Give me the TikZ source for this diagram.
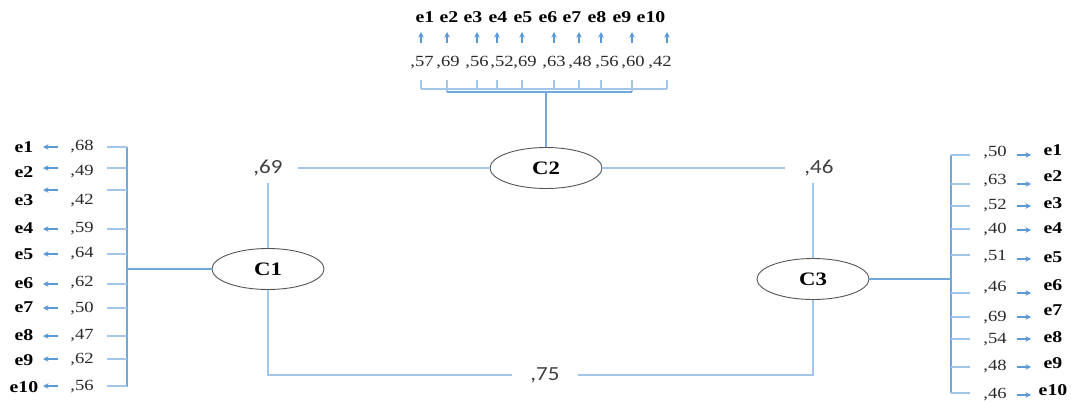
\documentclass[tikz,border=0pt]{standalone}
\usepackage{fontspec}
\setmainfont[FakeStretch=1.2]{Liberation Serif}
\newfontfamily\coeffont[FakeStretch=1.15]{Carlito}
\usetikzlibrary{shapes.geometric,arrows.meta}
\definecolor{lineblue}{HTML}{A4C6EA}
\definecolor{brblue}{HTML}{6FA8DC}
\definecolor{arrblue}{HTML}{5B9BD5}
\definecolor{txtgray}{HTML}{404040}
\definecolor{valgray}{HTML}{2A2A2A}
\definecolor{elgray}{HTML}{555555}
\tikzset{
  lat/.style={ellipse, draw=elgray, line width=0.9pt, minimum width=112pt, minimum height=41pt, inner sep=0pt,
              font=\fontsize{19}{21}\selectfont\bfseries},
  lbl/.style={inner sep=0pt, font=\fontsize{16.5}{18}\selectfont\bfseries},
  val/.style={inner sep=0pt, text=valgray, font=\fontsize{15.5}{17}\selectfont},
  coef/.style={inner sep=0pt, text=txtgray, font=\coeffont\fontsize{20}{22}\selectfont},
  ln/.style={draw=lineblue, line width=1.1pt},
  br/.style={draw=brblue, line width=1.4pt},
  arr/.style={draw=arrblue, line width=1.1pt, -{Stealth[length=5.5pt,width=5.5pt]}}
}
\begin{document}
\begin{tikzpicture}[x=1pt,y=-1pt]
\useasboundingbox (0,0) rectangle (1073,402);
% latent variables
\node[lat] (C1) at (268,269) {C1};
\node[lat] (C2) at (546,168) {C2};
\node[lat] (C3) at (813,279) {C3};
% correlation labels
\node[coef] (k12) at (268,168) {,69};
\node[coef] (k23) at (819,168) {,46};
\node[coef] (k13) at (545,375) {,75};
% correlations
\draw[ln] (C2.west) -- ([xshift=30pt]k12.center);
\draw[ln] ([yshift=-15pt]k12.center) -- (C1.north);
\draw[ln] (C2.east) -- ([xshift=-34pt]k23.center);
\draw[ln] ([yshift=-15pt]k23.center -| C3.north) -- (C3.north);
\draw[ln] (C1.south) |- ([xshift=-33pt]k13.center);
\draw[ln] (C3.south) |- ([xshift=33pt]k13.center);

% ---- left block (C1)
\coordinate (lbTop) at (127,147);
\coordinate (lbBot) at (127,387);
\draw[br] (lbTop) -- (lbBot);
\draw[br, line width=2.2pt] (C1.west) -- (C1.west -| lbTop);
\foreach \i/\ly/\vy/\ay/\v in {1/147/147/147/68, 2/172/172/168/49, 3/200/201/190/42, 4/228/229/229/59, 5/254/254/254/64,
   6/283/283/284/62, 7/307/309/308/50, 8/335/336/336/47, 9/360/360/359/62, 10/387/387/386/56}{
  \node[lbl] (L\i) at (24,\ly) {e\i};
  \node[val] (LV\i) at (82,\vy) {,\v};
  \coordinate (LA\i) at (58,\ay);
  \coordinate (LB\i) at (43,\ay);
  \draw[arr] (LA\i) -- (LB\i);
  \coordinate (LT\i) at (107,\ay);
  \draw[ln] (LT\i) -- (LT\i -| lbTop);
}

% ---- right block (C3)
\coordinate (rbTop) at (951,155);
\coordinate (rbBot) at (951,393);
\draw[br] (rbTop) -- (rbBot);
\draw[br, line width=2.2pt] (C3.east) -- (C3.east -| rbTop);
\foreach \i/\ly/\vy/\ay/\ty/\v in {1/150/153/155/155/50, 2/176/181/184/184/63, 3/203/206/206/206/52, 4/228/230/230/229/40,
   5/257/257/259/255/51, 6/285/288/293/293/46, 7/310/318/317/317/69, 8/337/340/339/339/54, 9/363/367/367/367/48, 10/390/395/395/393/46}{
  \node[lbl] (R\i) at (1053,\ly) {e\i};
  \node[val] (RV\i) at (995,\vy) {,\v};
  \coordinate (RA\i) at (1017,\ay);
  \coordinate (RB\i) at (1031,\ay);
  \draw[arr] (RA\i) -- (RB\i);
  \coordinate (RT\i) at (970,\ty);
  \draw[ln] (RT\i -| rbTop) -- (RT\i);
}

% ---- top block (C2)
\foreach \i/\lx/\ax/\vx/\v/\tl in {1/425/421/422/57/9, 2/449/447/448/69/12, 3/473/477/477/56/9, 4/498/497/502/52/9, 5/523/522/525/69/9,
   6/548/554/554/63/9, 7/572/579/580/48/9, 8/597/601/607/56/9, 9/622/632/633/60/12, 10/651/667/660/42/9}{
  \node[lbl] (T\i) at (\lx,17) {e\i};
  \node[val] (TV\i) at (\vx,63) {,\v};
  \coordinate (TA\i) at (\ax,43);
  \coordinate (TB\i) at (\ax,32);
  \draw[arr] (TA\i) -- (TB\i);
  \coordinate (TT\i) at (\ax,80);
  \draw[ln] (TT\i) -- ++(0,\tl);
}
\draw[ln] (TT1 |- 0,89) -- (TT10 |- 0,89);
\draw[br] (TT2 |- 0,92) -- (TT9 |- 0,92);
\draw[br] (C2.north) -- (C2.north |- 0,92);
\end{tikzpicture}
\end{document}
